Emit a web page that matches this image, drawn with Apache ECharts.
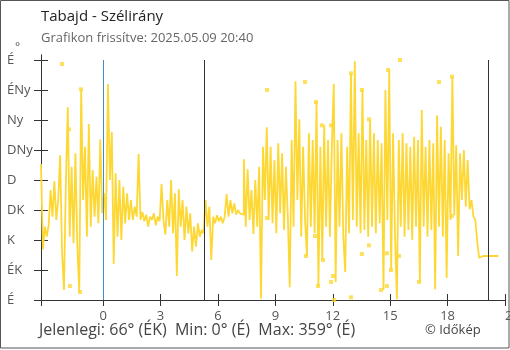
<!DOCTYPE html>
<html>
<head>
<meta charset="utf-8">
<script src="https://cdn.jsdelivr.net/npm/echarts@6/dist/echarts.min.js"></script>
<style>
html,body{margin:0;padding:0;background:#fff;}
#chart{width:510px;height:350px;}
</style>
</head>
<body>
<div id="chart"></div>
<script>
// ---- data ----
const titleText = 'Tabajd - Szélirány';
const subtitleText = 'Grafikon frissítve: 2025.05.09 20:40';
const footerText = 'Jelenlegi: 66° (ÉK)  Min: 0° (É)  Max: 359° (É)';
const creditText = '© Időkép';

const hourStart = -3.25;   // first sample (hours relative to midnight)
const hourStep = 0.1;      // sampling step in hours
const directions = [
  204, 76, 110, 95, 112, 165, 125, 178, 120, 150,
  217, 72, 15, 175, 289, 95, 200, 85, 220, 80,
  12, 316, 150, 230, 95, 264, 110, 195, 125, 185,
  115, 241, 130, 160, 120, 324, 180, 252, 54, 190,
  95, 180, 90, 170, 115, 160, 120, 150, 120, 140,
  125, 219, 120, 132, 118, 128, 110, 125, 120, 130,
  112, 125, 118, 174, 120, 98, 150, 110, 180, 100,
  160, 36, 166, 110, 150, 90, 140, 100, 130, 73,
  110, 80, 115, 95, 105, 100, 150, 110, 140, 60,
  125, 115, 127, 118, 125, 115, 125, 159, 125, 150,
  130, 145, 128, 135, 130, 128, 211, 110, 196, 120,
  165, 99, 180, 110, 200, 2, 230, 150, 259, 120,
  230, 115, 210, 100, 235, 130, 220, 105, 200, 125,
  19, 240, 110, 328, 150, 271, 95, 230, 120, 66,
  250, 110, 240, 100, 297, 21, 230, 60, 262, 110,
  240, 95, 230, 324, 27, 240, 110, 250, 95, 42,
  230, 100, 340, 120, 358, 110, 250, 100, 315, 105,
  240, 95, 271, 110, 250, 100, 240, 115, 235, 15,
  315, 120, 345, 45, 250, 100, 1, 240, 110, 250,
  95, 235, 105, 230, 90, 245, 110, 240, 27, 285,
  110, 230, 95, 240, 105, 235, 16, 277, 110, 260,
  95, 240, 33, 220, 120, 335, 127, 232, 66, 220,
  150, 225, 140, 210, 136, 150, 125, 120, 87, 63,
  66, 66, 66, 66, 66, 66, 66, 66, 66, 66
];

// isolated readings (drawn as single square points)
const isoHours = [-2.15, -1.79, -1.74, -1.21, -1.16, 8.56, 8.56, 10.55, 10.60, 11.07, 11.12, 11.23, 11.43, 11.49, 11.91, 11.91, 12.01, 12.07, 12.95, 12.95, 13.52, 13.52, 13.89, 13.89, 14.52, 14.83, 14.83, 14.89, 15.04, 15.46, 15.51, 16.51, 17.55, 18.23, 18.23];
const isoDirs  = [354, 256, 21, 12, 316, 315, 123, 327, 66, 96, 297, 21, 262, 60, 262, 27, 36, 0, 340, 4, 315, 69, 271, 82, 15, 21, 70, 345, 45, 66, 360, 27, 327, 335, 126];

const midnightHour = 0;
const sunriseHour = 5.27;
const sunsetHour = 20.15;

const xMin = -3.25, xMax = 21;
const xTickValues = [-3.25, 0, 3, 6, 9, 12, 15, 18, 21];
const xLabelValues = [0, 3, 6, 9, 12, 15, 18, 21];
const dirTicks = [0, 45, 90, 135, 180, 225, 270, 315, 360];
const dirLabels = ['É', 'ÉK', 'K', 'DK', 'D', 'DNy', 'Ny', 'ÉNy', 'É'];

// ---- chart ----
// each reading holds until the next one (step rendering)
const lineData = [];
directions.forEach((v, i) => {
  const h = hourStart + i * hourStep;
  lineData.push([h, v]);
  if (i < directions.length - 1) lineData.push([h + hourStep, v]);
});
const isoData = isoHours.map((h, i) => [h, isoDirs[i]]);
const FONT = '"Open Sans", "Noto Sans", sans-serif';
const AX = '#333';
const LINE = '#fdd835';

const chart = echarts.init(document.getElementById('chart'), null, {renderer: 'canvas'});
const baseX = {
  type: 'value', min: xMin, max: xMax, gridIndex: 0,
  splitLine: {show: false},
  axisLine: {show: true, onZero: false, lineStyle: {color: AX, width: 1}}
};
const baseY = {
  type: 'value', min: 0, max: 367.5, gridIndex: 0,
  splitLine: {show: false},
  axisLine: {show: true, onZero: false, lineStyle: {color: AX, width: 1}}
};
chart.setOption({
  animation: false,
  backgroundColor: '#fff',
  textStyle: {fontFamily: FONT},
  grid: {left: 41, right: 5, top: 55, bottom: 50, containLabel: false, outerBoundsMode: 'none'},
  xAxis: [
    Object.assign({}, baseX, {
      position: 'bottom',
      axisTick: {show: true, length: 6, inside: false, customValues: xTickValues, lineStyle: {color: AX}},
      axisLabel: {show: true, customValues: xLabelValues, margin: 10, color: '#555', fontSize: 13, fontFamily: FONT, alignMaxLabel: 'left'}
    }),
    Object.assign({}, baseX, {
      position: 'bottom',
      axisTick: {show: true, length: 6, inside: true, customValues: xTickValues, lineStyle: {color: AX}},
      axisLabel: {show: false}
    })
  ],
  yAxis: [
    Object.assign({}, baseY, {
      position: 'left',
      axisTick: {show: true, length: 7, inside: false, customValues: dirTicks, lineStyle: {color: AX}},
      axisLabel: {
        show: true, customValues: dirTicks, align: 'left', margin: 34, color: '#555', fontSize: 13, fontFamily: FONT,
        formatter: v => dirLabels[dirTicks.indexOf(Math.round(v))] || ''
      }
    }),
    Object.assign({}, baseY, {
      position: 'left',
      axisTick: {show: true, length: 7, inside: true, customValues: dirTicks, lineStyle: {color: AX}},
      axisLabel: {show: false}
    })
  ],
  series: [
    {
      type: 'line', data: [], xAxisIndex: 0, yAxisIndex: 0, z: 1,
      markLine: {
        silent: true, symbol: ['none', 'none'], label: {show: false}, animation: false,
        data: [
          [{coord: [midnightHour, 0], lineStyle: {color: '#3d8ccc', width: 1, type: 'solid'}}, {coord: [midnightHour, 360]}],
          [{coord: [sunriseHour, 0], lineStyle: {color: '#333', width: 1, type: 'solid'}}, {coord: [sunriseHour, 360]}],
          [{coord: [sunsetHour, 0], lineStyle: {color: '#333', width: 1, type: 'solid'}}, {coord: [sunsetHour, 360]}]
        ]
      }
    },
    {
      type: 'line', data: lineData, xAxisIndex: 0, yAxisIndex: 0, z: 3,
      showSymbol: false, symbol: 'none',
      lineStyle: {color: LINE, width: 1.8}
    },
    {
      type: 'scatter', data: isoData, xAxisIndex: 0, yAxisIndex: 0, z: 4,
      symbol: 'rect', symbolSize: 4, itemStyle: {color: LINE}
    }
  ],
  graphic: [
    {type: 'text', left: 41, top: 9, style: {text: titleText, font: '15px ' + FONT, fill: '#222'}},
    {type: 'text', left: 41, top: 32, style: {text: subtitleText, font: '13px ' + FONT, fill: '#666'}},
    {type: 'text', left: 15, top: 42, style: {text: '°', font: '12px ' + FONT, fill: '#555'}},
    {type: 'text', left: 39, top: 322, style: {text: footerText, font: '16px ' + FONT, fill: '#444'}},
    {type: 'text', left: 425, top: 324, style: {text: creditText, font: '13px ' + FONT, fill: '#444'}},
    {type: 'rect', shape: {x: 0.5, y: 0.5, width: 508.5, height: 347.5}, style: {fill: 'none', stroke: '#555', lineWidth: 1}, silent: true, z: 100}
  ]
});
</script>
</body>
</html>
